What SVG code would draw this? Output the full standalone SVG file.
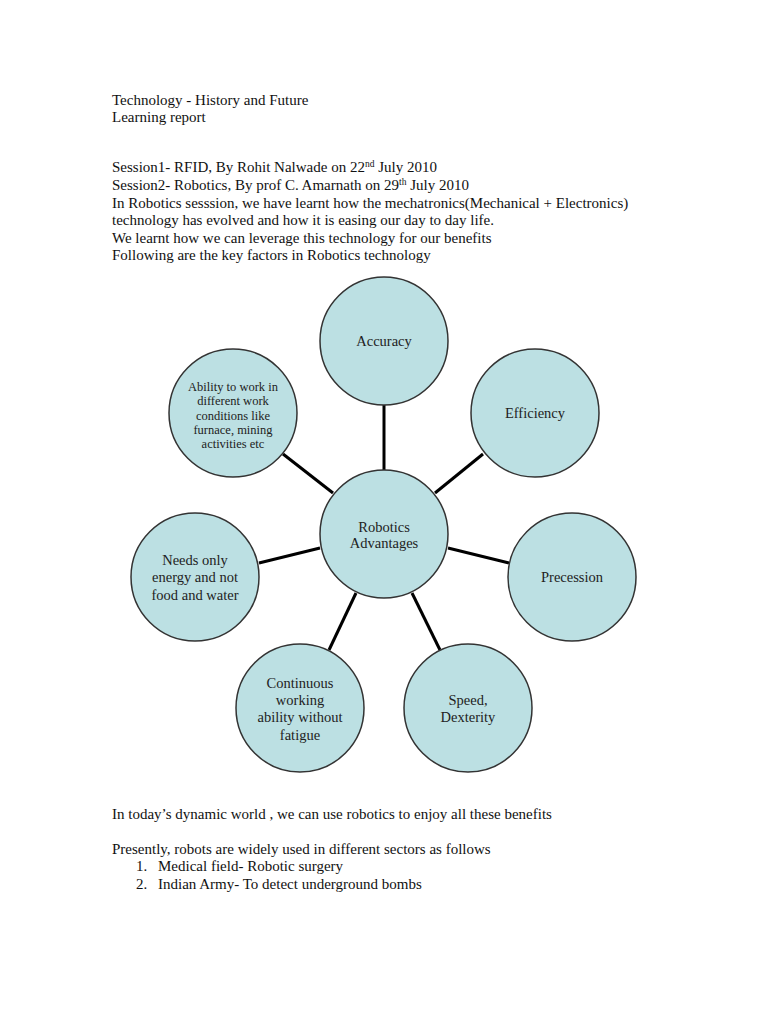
<svg xmlns="http://www.w3.org/2000/svg" width="768" height="1024" viewBox="0 0 768 1024">
<style>
.t{font-family:"Liberation Serif","Times New Roman",serif;font-size:15px;fill:#111}
.c{fill:#bce0e3;stroke:#333;stroke-width:1.5}
.n{font-family:"Liberation Serif","Times New Roman",serif;font-size:14.5px;fill:#222;text-anchor:middle}
.s{font-family:"Liberation Serif","Times New Roman",serif;font-size:12.5px;fill:#222;text-anchor:middle}
.e{stroke:#000;stroke-width:3;fill:none}
.sup{font-size:9.5px}
</style>
<rect width="768" height="1024" fill="#fff"/>
<g id="header">
<text class="t" x="112" y="105">Technology - History and Future</text>
<text class="t" x="112" y="122">Learning report</text>
<text class="t" x="112" y="172">Session1- RFID, By Rohit Nalwade on 22<tspan class="sup" dy="-5">nd</tspan><tspan dy="5"> July 2010</tspan></text>
<text class="t" x="112" y="190">Session2- Robotics, By prof C. Amarnath on 29<tspan class="sup" dy="-5">th</tspan><tspan dy="5"> July 2010</tspan></text>
<text class="t" x="112" y="208">In Robotics sesssion, we have learnt how the mechatronics(Mechanical + Electronics)</text>
<text class="t" x="112" y="225">technology has evolved and  how it is easing our day to day life.</text>
<text class="t" x="112" y="243">We learnt how we can leverage this technology for our benefits</text>
<text class="t" x="112" y="260">Following are the key factors in Robotics technology</text>
</g>
<g id="connectors">
<line class="e" x1="384" y1="405" x2="384" y2="470"/>
<line class="e" x1="283" y1="454" x2="333" y2="493"/>
<line class="e" x1="483" y1="454" x2="435" y2="493"/>
<line class="e" x1="259" y1="563" x2="320" y2="548"/>
<line class="e" x1="448" y1="548" x2="509" y2="563"/>
<line class="e" x1="356" y1="593" x2="329" y2="650"/>
<line class="e" x1="412" y1="593" x2="440" y2="650"/>
</g>
<g id="center">
<circle class="c" cx="384" cy="534" r="64"/>
<text class="n" x="384" y="532">Robotics</text>
<text class="n" x="384" y="548">Advantages</text>
</g>
<g id="accuracy">
<circle class="c" cx="384" cy="341" r="64"/>
<text class="n" x="384" y="346">Accuracy</text>
</g>
<g id="efficiency">
<circle class="c" cx="535" cy="413" r="64"/>
<text class="n" x="535" y="418">Efficiency</text>
</g>
<g id="ability">
<circle class="c" cx="233" cy="413" r="64"/>
<text class="s" x="233" y="391">Ability to work in</text>
<text class="s" x="233" y="405">different work</text>
<text class="s" x="233" y="420">conditions like</text>
<text class="s" x="233" y="434">furnace, mining</text>
<text class="s" x="233" y="448">activities etc</text>
</g>
<g id="needs">
<circle class="c" cx="195" cy="577" r="64"/>
<text class="n" x="195" y="565">Needs only</text>
<text class="n" x="195" y="582">energy and not</text>
<text class="n" x="195" y="600">food and water</text>
</g>
<g id="precession">
<circle class="c" cx="572" cy="577" r="64"/>
<text class="n" x="572" y="582">Precession</text>
</g>
<g id="continuous">
<circle class="c" cx="300" cy="708" r="64"/>
<text class="n" x="300" y="688">Continuous</text>
<text class="n" x="300" y="705">working</text>
<text class="n" x="300" y="722">ability without</text>
<text class="n" x="300" y="740">fatigue</text>
</g>
<g id="speed">
<circle class="c" cx="468" cy="708" r="64"/>
<text class="n" x="468" y="705">Speed,</text>
<text class="n" x="468" y="722">Dexterity</text>
</g>
<g id="footer">
<text class="t" x="112" y="819">In today’s dynamic world , we can use robotics to enjoy all these benefits</text>
<text class="t" x="112" y="854">Presently, robots are widely used in different sectors as follows</text>
<text class="t" x="136" y="871">1.</text>
<text class="t" x="158" y="871">Medical field- Robotic surgery</text>
<text class="t" x="136" y="889">2.</text>
<text class="t" x="158" y="889">Indian Army- To detect underground bombs</text>
</g>
</svg>
